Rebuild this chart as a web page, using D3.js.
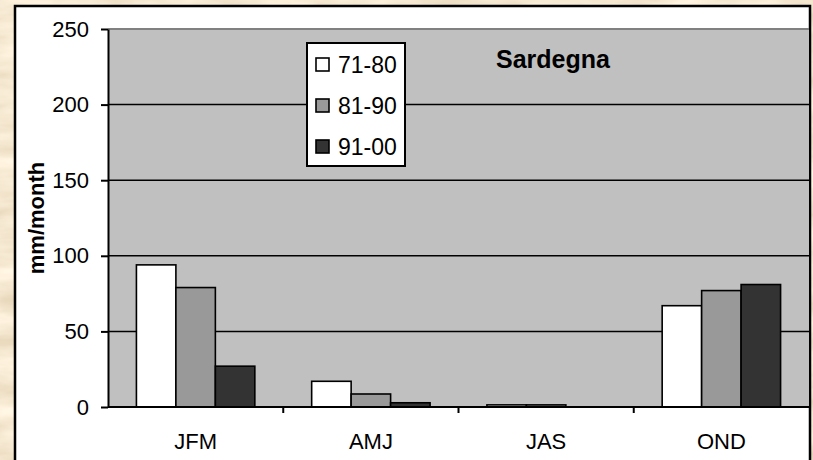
<!DOCTYPE html>
<html>
<head>
<meta charset="utf-8">
<script src="https://cdn.jsdelivr.net/npm/d3@7"></script>
<style>
  html, body { margin: 0; padding: 0; background: #ecd9ad; }
  svg { display: block; }
  text { font-family: "Liberation Sans", Arial, sans-serif; fill: #000; }
</style>
</head>
<body>
<svg id="chart" width="813" height="460"></svg>
<script>
// Seasonal precipitation, Sardegna, by decade
const categories = ["JFM", "AMJ", "JAS", "OND"];
const decades = ["71-80", "81-90", "91-00"];
const values7180 = [94, 17, 1.4, 67];
const values8190 = [79, 8.6, 1.4, 77];
const values9100 = [27, 2.8, 0, 81];
const yTicks = [0, 50, 100, 150, 200, 250];
const decadeColors = ["#ffffff", "#999999", "#333333"];
const chartTitle = "Sardegna";
const yLabel = "mm/month";

const seriesValues = [values7180, values8190, values9100];
const svg = d3.select("#chart");

// parchment backdrop
const defs = svg.append("defs");
const f = defs.append("filter").attr("id", "parchment")
  .attr("x", 0).attr("y", 0).attr("width", "100%").attr("height", "100%");
f.append("feTurbulence").attr("type", "fractalNoise")
  .attr("baseFrequency", "0.012 0.045").attr("numOctaves", 4).attr("seed", 7);
f.append("feColorMatrix").attr("type", "matrix")
  .attr("values", "0.40 0 0 0 0.72  0.42 0 0 0 0.60  0.48 0 0 0 0.40  0 0 0 0 1");
svg.append("rect").attr("width", 813).attr("height", 460).attr("filter", "url(#parchment)");

// chart area
svg.append("rect").attr("x", 15).attr("y", 6).attr("width", 795).attr("height", 470)
  .attr("fill", "#fff").attr("stroke", "#000").attr("stroke-width", 2.5);

const plot = { left: 108, right: 809, top: 29, bottom: 407 };

const x0 = d3.scaleBand().domain(categories).range([plot.left, plot.right]).paddingInner(0).paddingOuter(0);
const x1 = d3.scaleBand().domain(decades).range([0, x0.bandwidth()]).paddingInner(0).paddingOuter(0.72);
const y = d3.scaleLinear().domain([0, 250]).range([plot.bottom, plot.top]);

// plot area
svg.append("rect").attr("x", plot.left).attr("y", plot.top)
  .attr("width", plot.right - plot.left).attr("height", plot.bottom - plot.top)
  .attr("fill", "#c0c0c0");
svg.append("line").attr("x1", plot.left).attr("x2", plot.right)
  .attr("y1", plot.top).attr("y2", plot.top)
  .attr("stroke", "#808080").attr("stroke-width", 2);

// gridlines
svg.append("g").selectAll("line").data(yTicks.filter(t => t > 0 && t < 250)).join("line")
  .attr("x1", plot.left).attr("x2", plot.right)
  .attr("y1", d => y(d)).attr("y2", d => y(d))
  .attr("stroke", "#000").attr("stroke-width", 1.5);

// bars
const groups = svg.append("g").selectAll("g").data(categories).join("g")
  .attr("transform", d => `translate(${x0(d)},0)`);
groups.selectAll("rect")
  .data((c, i) => decades.map((dec, j) => ({ dec, v: seriesValues[j][i], j })))
  .join("rect")
  .attr("x", d => x1(d.dec))
  .attr("width", x1.bandwidth())
  .attr("y", d => y(d.v))
  .attr("height", d => y(0) - y(d.v))
  .attr("fill", d => decadeColors[d.j])
  .attr("stroke", "#000").attr("stroke-width", 1.6)
  .style("display", d => d.v > 0 ? null : "none");

// y axis
const yAxis = svg.append("g").attr("transform", `translate(${plot.left},0)`)
  .call(d3.axisLeft(y).tickValues(yTicks).tickSize(7).tickPadding(12).tickSizeOuter(0));
yAxis.select(".domain").attr("stroke", "#000").attr("stroke-width", 2);
yAxis.selectAll(".tick line").attr("stroke", "#000").attr("stroke-width", 2);
yAxis.selectAll("text").attr("font-size", 22).attr("fill", "#000")
  .attr("font-family", "Liberation Sans, Arial, sans-serif");

// x axis: baseline with ticks at category boundaries
svg.append("line").attr("x1", plot.left).attr("x2", plot.right)
  .attr("y1", plot.bottom).attr("y2", plot.bottom)
  .attr("stroke", "#000").attr("stroke-width", 2);
svg.append("g").selectAll("line").data(categories.slice(1)).join("line")
  .attr("x1", d => x0(d)).attr("x2", d => x0(d))
  .attr("y1", plot.bottom).attr("y2", plot.bottom + 6)
  .attr("stroke", "#000").attr("stroke-width", 2);
svg.append("g").selectAll("text").data(categories).join("text")
  .attr("x", d => x0(d) + x0.bandwidth() / 2)
  .attr("y", 449)
  .attr("text-anchor", "middle").attr("font-size", 22)
  .text(d => d);

// y label
svg.append("text")
  .attr("transform", "translate(44,218) rotate(-90)")
  .attr("text-anchor", "middle").attr("font-size", 22).attr("font-weight", "bold")
  .text(yLabel);

// title
svg.append("text").attr("x", 553).attr("y", 68)
  .attr("text-anchor", "middle").attr("font-size", 25).attr("font-weight", "bold")
  .text(chartTitle);

// legend
const lg = svg.append("g").attr("transform", "translate(307,43)");
lg.append("rect").attr("width", 98).attr("height", 123)
  .attr("fill", "#fff").attr("stroke", "#000").attr("stroke-width", 2);
const items = lg.selectAll("g").data(decades).join("g")
  .attr("transform", (d, i) => `translate(9,${22 + i * 41})`);
items.append("rect").attr("x", 0).attr("y", -7).attr("width", 13).attr("height", 13)
  .attr("fill", (d, i) => decadeColors[i]).attr("stroke", "#000").attr("stroke-width", 1.6);
items.append("text").attr("x", 22).attr("y", 8).attr("font-size", 23).text(d => d);
</script>
</body>
</html>
